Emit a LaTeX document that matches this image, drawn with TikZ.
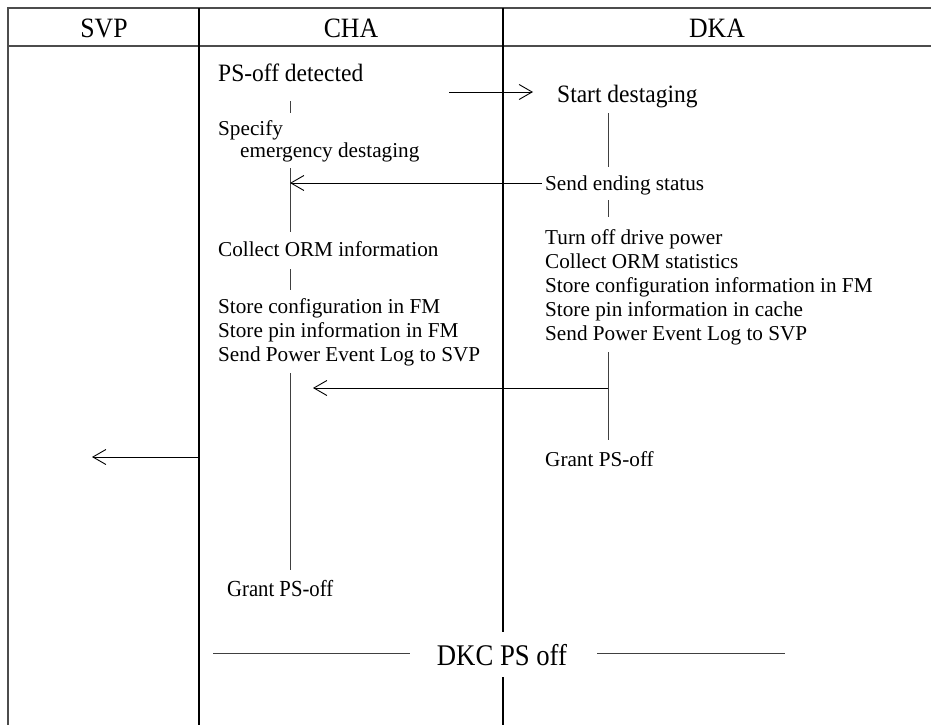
\documentclass[tikz,border=0pt]{standalone}
\usepackage{fontspec}
\setmainfont{Liberation Serif}
\usetikzlibrary{arrows.meta}
\begin{document}
\begin{tikzpicture}[x=1pt,y=-1pt,
  frame/.style={draw=black!70, line width=1.6pt},
  sep/.style={draw=black, line width=2pt},
  lane/.style={draw=black!75, line width=1pt},
  msg/.style={draw=black, line width=0.9pt, -{Straight Barb[length=13pt,width=15pt,line width=0.9pt]}},
  body/.style={font=\fontsize{21.2}{24}\selectfont, inner sep=0pt, anchor=west, align=left},
  big/.style={font=\fontsize{25}{27}\selectfont, inner sep=0pt, anchor=west, xscale=0.94},
  head/.style={font=\fontsize{28}{30}\selectfont, inner sep=0pt, xscale=0.92},
  grant/.style={font=\fontsize{23}{25}\selectfont, inner sep=0pt, anchor=west, xscale=0.9},
  dkcstyle/.style={font=\fontsize{30}{32}\selectfont, inner sep=0pt, xscale=0.89}]
\useasboundingbox (0,0) rectangle (931,725);
% frame
\draw[frame] (8,725) -- (8,8) -- (931,8);
\draw[frame] (8,46) -- (931,46);
\draw[sep] (199,8) -- (199,725);
\draw[sep] (503,8) -- (503,632);
\draw[sep] (503,677) -- (503,725);
% headers
\node[head] (hsvp) at (104,28) {SVP};
\node[head] (hcha) at (351,28) {CHA};
\node[head] (hdka) at (717,28) {DKA};
% texts
\node[big] (psoff) at (218,73) {PS-off detected};
\node[big] (startd) at (557,97) {Start destaging};
\node[body, font=\fontsize{21.2}{22}\selectfont] (spec) at (218,141) {Specify\\\hspace*{22pt}emergency destaging};
\node[body] (sendend) at (545,185) {Send ending status};
\node[body] (collect) at (218,249) {Collect ORM information};
\node[body] (store) at (218,332) {Store configuration in FM\\Store pin information in FM\\Send Power Event Log to SVP};
\node[body] (dkablk) at (545,287) {Turn off drive power\\Collect ORM statistics\\Store configuration information in FM\\Store pin information in cache\\Send Power Event Log to SVP};
\node[body] (grantD) at (545,459) {Grant PS-off};
\node[grant] (grantC) at (227,589) {Grant PS-off};
\node[dkcstyle] (dkc) at (502,655) {DKC PS off};
% lane coordinates
\coordinate (c1) at (290,101);
\coordinate (c2) at (290,113);
\coordinate (c3) at (290,168);
\coordinate (c4) at (290,232);
\coordinate (c5) at (290,269);
\coordinate (c6) at (290,290);
\coordinate (c7) at (290,373);
\coordinate (c8) at (290,570);
\coordinate (d1) at (608,113);
\coordinate (d2) at (608,167);
\coordinate (d3) at (608,200);
\coordinate (d4) at (608,217);
\coordinate (d5) at (608,352);
\coordinate (d6) at (608,440);
\coordinate (d7) at (608,388);
\coordinate (a1s) at (449,92);
\coordinate (a1e) at (533,92);
\coordinate (a2e) at (290,183);
\coordinate (a3e) at (313,388);
\coordinate (s1) at (199,457);
\coordinate (s2) at (92,457);
\coordinate (k1) at (213,653);
\coordinate (k2) at (410,653);
\coordinate (k3) at (597,653);
\coordinate (k4) at (785,653);
% lanes
\draw[lane] (c1) -- (c2);
\draw[lane] (c3) -- (c4);
\draw[lane] (c5) -- (c6);
\draw[lane] (c7) -- (c8);
\draw[lane] (d1) -- (d2);
\draw[lane] (d3) -- (d4);
\draw[lane] (d5) -- (d6);
% messages
\draw[msg] (a1s) -- (a1e);
\draw[msg, shorten <=3pt] (sendend.west |- a2e) -- (a2e);
\draw[msg] (d7) -- (a3e);
\draw[msg] (s1) -- (s2);
% DKC PS off
\draw[lane] (k1) -- (k2);
\draw[lane] (k3) -- (k4);
\end{tikzpicture}
\end{document}
